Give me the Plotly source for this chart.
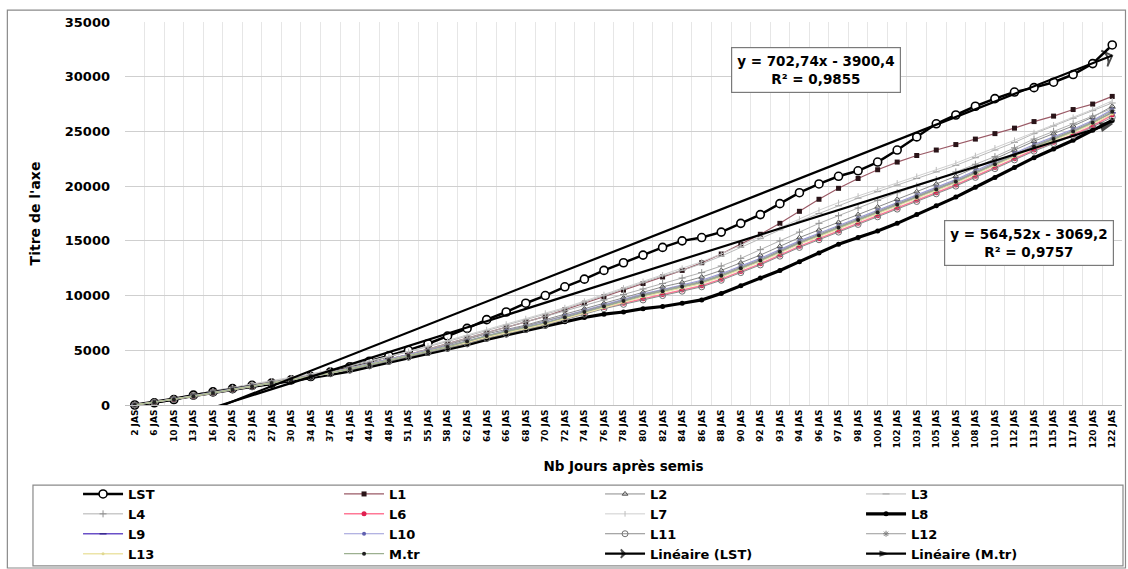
import plotly.graph_objects as go

# Sampling dates (days after sowing)
days = [2, 6, 10, 13, 16, 20, 23, 27, 30, 34, 37, 41, 44, 48, 51, 55, 58, 62, 64, 66,
        68, 70, 72, 74, 76, 78, 80, 82, 84, 86, 88, 90, 92, 93, 94, 96, 97, 98,
        100, 102, 103, 105, 106, 108, 110, 112, 113, 115, 117, 120, 122]
tick_labels = [f"{d} JAS" for d in days]
idx = list(range(1, len(days) + 1))

LST = [0, 200, 500, 900, 1200, 1500, 1800, 2000, 2300, 2600, 3000, 3500, 4000, 4500, 5000,
       5600, 6300, 7000, 7800, 8500, 9300, 10000, 10800, 11500, 12300, 13000, 13700, 14400,
       15000, 15300, 15800, 16600, 17400, 18400, 19400, 20200, 20900, 21400, 22200, 23300,
       24500, 25700, 26500, 27300, 28000, 28600, 29000, 29500, 30200, 31200, 32900]
L1 = [0, 250, 550, 900, 1200, 1500, 1800, 2100, 2400, 2700, 3000, 3400, 3800, 4200, 4600,
      5100, 5600, 6100, 6600, 7100, 7600, 8100, 8700, 9300, 9900, 10500, 11100, 11700, 12300,
      13000, 13800, 14700, 15600, 16600, 17700, 18800, 19800, 20700, 21500, 22200, 22800,
      23300, 23800, 24300, 24800, 25300, 25900, 26400, 27000, 27500, 28200]
L2 = [0, 300, 600, 900, 1200, 1500, 1800, 2100, 2400, 2700, 3000, 3400, 3800, 4200, 4600,
      5000, 5500, 6000, 6500, 6900, 7300, 7800, 8300, 8800, 9300, 9800, 10300, 10800, 11200,
      11700, 12300, 13000, 13700, 14500, 15300, 16000, 16700, 17400, 18100, 18800, 19500,
      20200, 20900, 21700, 22500, 23300, 24100, 24800, 25500, 26300, 27300]
L3 = [0, 300, 650, 950, 1250, 1550, 1850, 2150, 2450, 2800, 3150, 3550, 3950, 4400, 4850,
      5300, 5800, 6300, 6800, 7300, 7800, 8300, 8800, 9400, 10000, 10600, 11200, 11800, 12300,
      12900, 13600, 14400, 15200, 16000, 16800, 17500, 18200, 18900, 19500, 20100, 20700,
      21300, 21900, 22600, 23300, 24000, 24800, 25500, 26200, 26900, 27600]
L4 = [0, 250, 550, 850, 1150, 1450, 1750, 2050, 2350, 2650, 3000, 3400, 3800, 4200, 4600,
      5100, 5600, 6100, 6600, 7100, 7600, 8100, 8600, 9100, 9600, 10100, 10600, 11100, 11600,
      12100, 12700, 13400, 14200, 15000, 15800, 16600, 17300, 18000, 18700, 19400, 20000,
      20600, 21300, 22000, 22700, 23500, 24300, 25000, 25700, 26400, 27100]
L6 = [0, 250, 500, 800, 1100, 1400, 1700, 2000, 2300, 2600, 2900, 3300, 3700, 4100, 4500,
      4900, 5300, 5700, 6200, 6600, 7000, 7400, 7900, 8400, 8900, 9300, 9700, 10100, 10500,
      10900, 11500, 12200, 12900, 13700, 14500, 15200, 15900, 16600, 17300, 18000, 18700,
      19400, 20100, 20900, 21700, 22500, 23300, 24000, 24700, 25500, 26500]
L7 = [0, 300, 600, 950, 1300, 1600, 1900, 2200, 2500, 2850, 3200, 3600, 4000, 4450, 4900,
      5400, 5900, 6400, 6900, 7400, 7900, 8400, 8900, 9500, 10100, 10700, 11300, 11900, 12500,
      13100, 13800, 14600, 15400, 16200, 17000, 17800, 18500, 19100, 19700, 20300, 20900,
      21500, 22100, 22800, 23500, 24200, 24900, 25600, 26300, 27000, 27800]
L8 = [0, 250, 550, 850, 1150, 1450, 1700, 1950, 2200, 2500, 2800, 3100, 3500, 3900, 4300,
      4700, 5100, 5500, 6000, 6400, 6800, 7200, 7600, 8000, 8300, 8500, 8800, 9000, 9300,
      9600, 10200, 10900, 11600, 12300, 13100, 13900, 14700, 15300, 15900, 16600, 17400,
      18200, 19000, 19900, 20800, 21700, 22600, 23400, 24200, 25100, 26000]
L9 = [0, 250, 500, 800, 1100, 1400, 1700, 2000, 2300, 2600, 2900, 3300, 3700, 4100, 4500,
      4900, 5300, 5800, 6300, 6700, 7100, 7500, 8000, 8500, 9000, 9500, 10000, 10400, 10800,
      11200, 11800, 12500, 13200, 14000, 14800, 15500, 16200, 16900, 17600, 18300, 19000,
      19700, 20400, 21200, 22000, 22800, 23600, 24300, 25000, 25800, 26700]
L10 = [0, 250, 550, 850, 1150, 1450, 1750, 2050, 2350, 2650, 2950, 3350, 3750, 4150, 4550,
       4950, 5400, 5850, 6350, 6800, 7200, 7650, 8150, 8650, 9150, 9650, 10150, 10550, 10950,
       11400, 12000, 12700, 13400, 14200, 15000, 15700, 16400, 17100, 17800, 18500, 19200,
       19900, 20600, 21400, 22200, 23000, 23800, 24500, 25200, 26000, 27000]
L11 = [0, 250, 500, 800, 1100, 1400, 1650, 1950, 2250, 2550, 2850, 3200, 3600, 4000, 4400,
       4800, 5200, 5600, 6100, 6500, 6900, 7300, 7800, 8300, 8800, 9200, 9600, 10000, 10400,
       10800, 11400, 12100, 12800, 13600, 14400, 15100, 15800, 16500, 17200, 17900, 18600,
       19300, 20000, 20800, 21600, 22400, 23200, 23900, 24600, 25400, 26300]
L12 = [0, 250, 550, 850, 1150, 1450, 1750, 2050, 2350, 2650, 2950, 3300, 3700, 4100, 4500,
       4950, 5400, 5850, 6300, 6750, 7200, 7650, 8100, 8600, 9100, 9600, 10100, 10500, 10900,
       11300, 11900, 12600, 13300, 14100, 14900, 15600, 16300, 17000, 17700, 18400, 19100,
       19800, 20500, 21300, 22100, 22900, 23700, 24400, 25100, 25900, 26900]
L13 = [0, 250, 500, 800, 1100, 1400, 1700, 2000, 2300, 2600, 2900, 3300, 3700, 4100, 4500,
       4900, 5300, 5700, 6200, 6600, 7000, 7400, 7900, 8400, 8900, 9400, 9900, 10300, 10700,
       11100, 11700, 12400, 13100, 13900, 14700, 15400, 16100, 16800, 17500, 18200, 18900,
       19600, 20300, 21100, 21900, 22700, 23500, 24200, 24900, 25700, 26600]
Mtr = [0, 250, 500, 800, 1100, 1400, 1700, 2000, 2300, 2600, 2900, 3300, 3700, 4100, 4500,
       4900, 5300, 5800, 6300, 6700, 7100, 7500, 8000, 8500, 9000, 9500, 10000, 10400, 10800,
       11200, 11800, 12500, 13200, 14000, 14800, 15500, 16200, 16900, 17600, 18300, 19000,
       19700, 20400, 21200, 22000, 22800, 23600, 24300, 25000, 25800, 26800]

# Linear trend coefficients shown in the equation boxes
lst_slope, lst_intercept, lst_r2 = 702.74, -3900.4, 0.9855
mtr_slope, mtr_intercept, mtr_r2 = 564.52, -3069.2, 0.9757

FONT = "DejaVu Sans"
fig = go.Figure()


def add_series(name, y, line, marker):
    fig.add_trace(go.Scatter(x=idx, y=y, name=name, mode="lines+markers",
                             line=line, marker=marker, cliponaxis=False))


add_series("LST", LST, dict(color="black", width=2.5),
           dict(symbol="circle", size=8, color="white", line=dict(color="black", width=1.6)))
add_series("L1", L1, dict(color="#9a5a66", width=1.2),
           dict(symbol="square", size=5, color="#2a1418", line=dict(width=0)))
add_series("L2", L2, dict(color="#8c8c8c", width=1),
           dict(symbol="triangle-up-open", size=5, color="#505050"))
add_series("L3", L3, dict(color="#b8b8b8", width=1),
           dict(symbol="line-ew", size=5, color="#a0a0a0", line=dict(color="#a0a0a0", width=1)))
add_series("L4", L4, dict(color="#b0b0b0", width=1),
           dict(symbol="cross-thin", size=5, color="#909090", line=dict(color="#909090", width=1)))
add_series("L6", L6, dict(color="#ff7896", width=1.5),
           dict(symbol="circle", size=5, color="#e02050"))
add_series("L7", L7, dict(color="#cfcfcf", width=1),
           dict(symbol="line-ns", size=4, color="#bdbdbd", line=dict(color="#bdbdbd", width=1)))
add_series("L8", L8, dict(color="black", width=3.2),
           dict(symbol="circle", size=5, color="black"))
add_series("L9", L9, dict(color="#6a50c8", width=1.5),
           dict(symbol="line-ew", size=5, color="#3a2a90", line=dict(color="#3a2a90", width=1.5)))
add_series("L10", L10, dict(color="#9a9ad8", width=1.2),
           dict(symbol="circle", size=4, color="#6060b0"))
add_series("L11", L11, dict(color="#8c8c8c", width=1),
           dict(symbol="circle-open", size=6, color="#707070"))
add_series("L12", L12, dict(color="#9a9a9a", width=1),
           dict(symbol="asterisk-open", size=5, color="#808080", line=dict(color="#808080", width=1)))
add_series("L13", L13, dict(color="#ece4a8", width=1.5),
           dict(symbol="circle", size=3, color="#e0d890"))
add_series("M.tr", Mtr, dict(color="#9cb090", width=1.2),
           dict(symbol="circle", size=4, color="#202020"))

# Trend lines over the full category range (clipped at the x axis)
x0, x1 = idx[0], idx[-1]
for name, a, b, sym in [("Linéaire (LST)", lst_slope, lst_intercept, "arrow-wide-open"),
                        ("Linéaire (M.tr)", mtr_slope, mtr_intercept, "arrow")]:
    fig.add_trace(go.Scatter(
        x=[x0, x1], y=[a * x0 + b, a * x1 + b], name=name, mode="lines+markers",
        line=dict(color="black", width=2.2),
        marker=dict(symbol=sym, size=[0, 12], angleref="previous", color="black",
                    line=dict(color="black", width=1.8)),
    ))


def equation(a, b, r2):
    eq = f"y = {a:.2f}x - {abs(b):.1f}".replace(".", ",")
    r = f"R² = {r2:.4f}".replace(".", ",")
    return eq + "<br>" + r


box_font = dict(family=FONT, size=13.5, color="black", weight="bold")
fig.add_annotation(xref="paper", yref="paper", x=0.693, y=0.875, xanchor="center",
                   yanchor="middle", showarrow=False,
                   text=equation(lst_slope, lst_intercept, lst_r2), font=box_font,
                   bgcolor="white", bordercolor="#7a7a7a", borderwidth=1.2, borderpad=5)
fig.add_annotation(xref="paper", yref="paper", x=0.907, y=0.423, xanchor="center",
                   yanchor="middle", showarrow=False,
                   text=equation(mtr_slope, mtr_intercept, mtr_r2), font=box_font,
                   bgcolor="white", bordercolor="#7a7a7a", borderwidth=1.2, borderpad=5)

# Chart-area frame and legend frame
fig.add_shape(type="rect", xref="paper", yref="paper", x0=-0.118, x1=1.0035, y0=-0.4256, y1=1.031,
              line=dict(color="#8a8a8a", width=1.2), layer="below")
fig.add_shape(type="rect", xref="paper", yref="paper", x0=-0.0923, x1=1.001, y0=-0.420, y1=-0.209,
              line=dict(color="#8a8a8a", width=1.2), layer="below")

fig.update_layout(
    width=1128, height=569,
    margin=dict(l=125, r=6, t=22, b=164, autoexpand=False),
    paper_bgcolor="white", plot_bgcolor="white",
    font=dict(family=FONT, color="black"),
    showlegend=True,
    legend=dict(orientation="h", x=-0.0471, xanchor="left", y=-0.1932, yanchor="top",
                entrywidth=206, itemwidth=40, tracegroupgap=0,
                font=dict(family=FONT, size=13, weight="bold"),
                borderwidth=0, bgcolor="rgba(0,0,0,0)"),
    xaxis=dict(
        range=[0.5, len(idx) + 0.5], tickmode="array", tickvals=idx, ticktext=tick_labels,
        tickangle=-90, tickfont=dict(family=FONT, size=9, weight="bold"),
        showgrid=False, zeroline=False, showline=True, linecolor="#bdbdbd", ticks="",
        automargin=False,
        minor=dict(tickmode="linear", tick0=0.5, dtick=1, showgrid=True,
                   gridcolor="#e6e6e6", gridwidth=1),
        title=dict(text="Nb Jours après semis", font=dict(family=FONT, size=13.5, weight="bold"),
                   standoff=14),
    ),
    yaxis=dict(
        range=[0, 35000], tickmode="linear", tick0=0, dtick=5000, tickformat="d",
        tickfont=dict(family=FONT, size=13, weight="bold"),
        showgrid=True, gridcolor="#cfcfcf", gridwidth=1, zeroline=False, showline=False,
        ticks="", ticklabelstandoff=14, automargin=False,
        title=dict(text="Titre de l'axe", font=dict(family=FONT, size=14, weight="bold"),
                   standoff=20),
    ),
)

fig.write_html("out.html")
